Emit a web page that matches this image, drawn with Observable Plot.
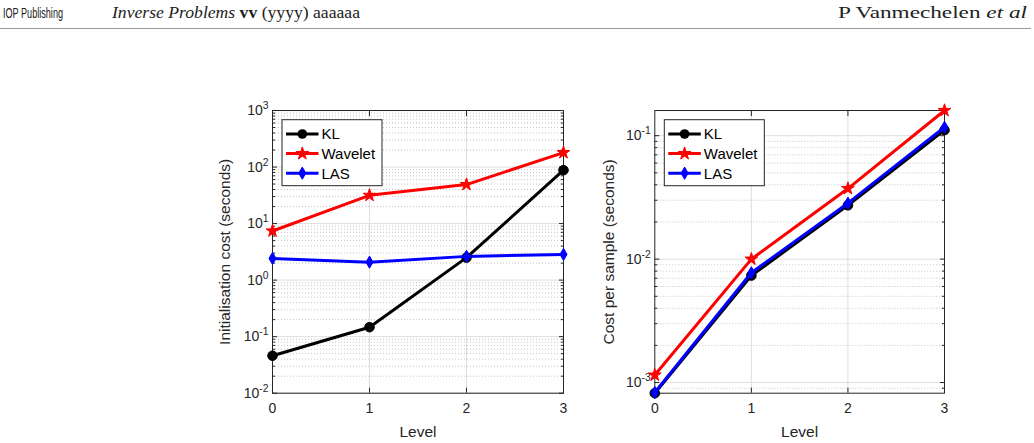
<!DOCTYPE html>
<html>
<head>
<meta charset="utf-8">
<script src="https://cdn.jsdelivr.net/npm/d3@7"></script>
<script src="https://cdn.jsdelivr.net/npm/@observablehq/plot@0.6"></script>
<style>
  body { margin: 0; background: #fff; }
  #page { position: relative; width: 1034px; height: 443px; overflow: hidden; background: #fff; }
  #header { position: absolute; left: 0; top: 0; }
  #left { position: absolute; left: 160px; top: 90px; }
  #right { position: absolute; left: 580px; top: 90px; }
</style>
</head>
<body>
<div id="page">
  <svg id="header" width="1034" height="32">
    <text x="3" y="18" font-family="Liberation Sans, Arial, sans-serif" font-size="15" fill="#222" textLength="60" lengthAdjust="spacingAndGlyphs">IOP Publishing</text>
    <text x="112" y="17.5" font-family="Liberation Serif, Times New Roman, serif" font-size="16" fill="#222" textLength="248" lengthAdjust="spacingAndGlyphs"><tspan font-style="italic">Inverse Problems</tspan> <tspan font-weight="bold">vv</tspan> (yyyy) aaaaaa</text>
    <text x="838" y="17.5" font-family="Liberation Serif, Times New Roman, serif" font-size="16" fill="#222" textLength="189" lengthAdjust="spacingAndGlyphs">P Vanmechelen <tspan font-style="italic">et al</tspan></text>
    <line x1="0" x2="1031" y1="28.5" y2="28.5" stroke="#9a9a9a" stroke-width="1"/>
  </svg>
  <div id="left"></div>
  <div id="right"></div>
</div>
<script>
// Refinement levels on the x axis
const levels = [0, 1, 2, 3];

// Method names, line colours and marker shapes
const series = ["KL", "Wavelet", "LAS"];
const seriesColors = ["#000000", "#ff0000", "#0000ff"];
const seriesSymbols = ["circle", "star", "diamond"];
const seriesRadius = [4.8, 4.0, 3.7];

// Initialisation cost (seconds) per level
const initKL = [0.046, 0.147, 2.5, 88];
const initWavelet = [7.4, 31.6, 49, 180];
const initLAS = [2.42, 2.08, 2.63, 2.85];

// Cost per sample (seconds) per level
const sampleKL = [0.00082, 0.00736, 0.0273, 0.111];
const sampleWavelet = [0.00115, 0.0100, 0.0373, 0.16];
const sampleLAS = [0.00083, 0.00775, 0.0284, 0.117];

const ink = "#262626";
const font = "Liberation Sans, Arial, Helvetica, sans-serif";

function rowsFor(values, i) {
  return levels.map((level, j) => ({level, value: values[j], series: series[i]}));
}

// Decade ticks and the 2..9 minor ticks between them, kept inside the domain
function logTicks([lo, hi]) {
  const major = [], minor = [];
  for (let k = Math.floor(Math.log10(lo)); k <= Math.ceil(Math.log10(hi)); k++) {
    const base = Math.pow(10, k);
    if (base >= lo * 0.9999 && base <= hi * 1.0001) major.push(base);
    for (let m = 2; m <= 9; m++) {
      const v = m * base;
      if (v >= lo && v <= hi) minor.push(v);
    }
  }
  return {major, minor};
}

// Boxed legend drawn in the upper-left corner of the frame
function legendMark(index, scales, values, dims) {
  const g = d3.create("svg:g");
  const x0 = dims.marginLeft + 10, y0 = dims.marginTop + 9.7;
  g.append("rect")
    .attr("x", x0).attr("y", y0).attr("width", 100).attr("height", 66)
    .attr("fill", "#fff").attr("stroke", ink).attr("stroke-width", 1);
  series.forEach((name, i) => {
    const cy = y0 + 14.3 + i * 19.6;
    g.append("line")
      .attr("x1", x0 + 4).attr("x2", x0 + 36.5).attr("y1", cy).attr("y2", cy)
      .attr("stroke", seriesColors[i]).attr("stroke-width", 3);
    const r = seriesRadius[i];
    if (seriesSymbols[i] === "circle") {
      g.append("circle").attr("cx", x0 + 20.3).attr("cy", cy).attr("r", r)
        .attr("fill", seriesColors[i]);
    } else {
      const type = seriesSymbols[i] === "star" ? d3.symbolStar : d3.symbolDiamond;
      g.append("path")
        .attr("transform", `translate(${x0 + 20.3},${cy})`)
        .attr("d", d3.symbol(type, r * r * Math.PI)())
        .attr("fill", seriesColors[i]).attr("stroke", seriesColors[i]).attr("stroke-width", 1);
    }
    g.append("text")
      .attr("x", x0 + 39.5).attr("y", cy).attr("dy", "0.36em")
      .attr("text-anchor", "start")
      .attr("font-size", 15).attr("font-family", font).attr("fill", "#000")
      .text(name);
  });
  return g.node();
}

// Turn "10^k" tick labels into 10 with a raised exponent
function superscriptTicks(svg) {
  svg.querySelectorAll("text").forEach((t) => {
    const m = /^10\^(.+)$/.exec(t.textContent);
    if (!m) return;
    t.textContent = "10";
    const s = document.createElementNS("http://www.w3.org/2000/svg", "tspan");
    s.setAttribute("dy", "-0.55em");
    s.setAttribute("font-size", "0.74em");
    s.textContent = m[1];
    t.appendChild(s);
  });
}

function costChart({data, domain, yLabel, width, marginLeft, marginRight, labelDx}) {
  const {major, minor} = logTicks(domain);
  const fmt = (d) => "10^" + Math.round(Math.log10(d));
  const blank = () => "";
  const marks = [
    Plot.gridY(minor, {stroke: "#c4c4c4", strokeOpacity: 1, strokeDasharray: "1,2"}),
    Plot.gridY(major, {stroke: "#dedede", strokeOpacity: 1}),
    Plot.gridX([1, 2], {stroke: "#dedede", strokeOpacity: 1}),
    // tick labels
    Plot.axisY(major, {anchor: "left", tickSize: 0, tickPadding: 4, tickFormat: fmt, fontSize: 14, label: null}),
    Plot.axisX(levels, {anchor: "bottom", tickSize: 0, tickPadding: 10, tickFormat: (d) => String(d), fontSize: 14, label: null}),
    // inward ticks on all four sides
    Plot.axisY(major, {anchor: "left", tickSize: 5, dx: 5, tickFormat: blank, label: null}),
    Plot.axisY(minor, {anchor: "left", tickSize: 3, dx: 3, tickFormat: blank, label: null}),
    Plot.axisY(major, {anchor: "right", tickSize: 5, dx: -5, tickFormat: blank, label: null}),
    Plot.axisY(minor, {anchor: "right", tickSize: 3, dx: -3, tickFormat: blank, label: null}),
    Plot.axisX([1, 2], {anchor: "bottom", tickSize: 5, dy: -5, tickFormat: blank, label: null}),
    Plot.axisX([1, 2], {anchor: "top", tickSize: 5, dy: 5, tickFormat: blank, label: null}),
    Plot.frame({stroke: ink, strokeWidth: 1}),
    // axis titles
    Plot.text(["Level"], {frameAnchor: "bottom", textAnchor: "middle", lineAnchor: "middle", dy: 38.5, fontSize: 15.5, fill: ink}),
    Plot.text([yLabel], {frameAnchor: "left", textAnchor: "middle", lineAnchor: "middle", rotate: -90, dx: labelDx, fontSize: 15.5, fill: ink})
  ];
  data.forEach((values, i) => {
    const rows = rowsFor(values, i);
    marks.push(
      Plot.line(rows, {x: "level", y: "value", stroke: seriesColors[i], strokeWidth: 3}),
      Plot.dot(rows, {x: "level", y: "value", symbol: seriesSymbols[i], r: seriesRadius[i],
                      fill: seriesColors[i], stroke: seriesColors[i], strokeWidth: 1})
    );
  });
  marks.push(legendMark);
  const svg = Plot.plot({
    width, height: 353,
    marginTop: 20, marginBottom: 50.3, marginLeft, marginRight,
    style: {fontFamily: font, color: ink, background: "transparent", overflow: "visible"},
    x: {domain: [0, 3]},
    y: {type: "log", domain},
    marks
  });
  superscriptTicks(svg);
  return svg;
}

const initDomain = [0.01, 1000];
const sampleDomain = d3.extent([...sampleKL, ...sampleWavelet, ...sampleLAS]);

document.getElementById("left").appendChild(costChart({
  data: [initKL, initWavelet, initLAS],
  domain: initDomain,
  yLabel: "Initialisation cost (seconds)",
  width: 420, marginLeft: 112, marginRight: 17, labelDx: -47
}));

document.getElementById("right").appendChild(costChart({
  data: [sampleKL, sampleWavelet, sampleLAS],
  domain: sampleDomain,
  yLabel: "Cost per sample (seconds)",
  width: 454, marginLeft: 74.3, marginRight: 90, labelDx: -46
}));
</script>
</body>
</html>
